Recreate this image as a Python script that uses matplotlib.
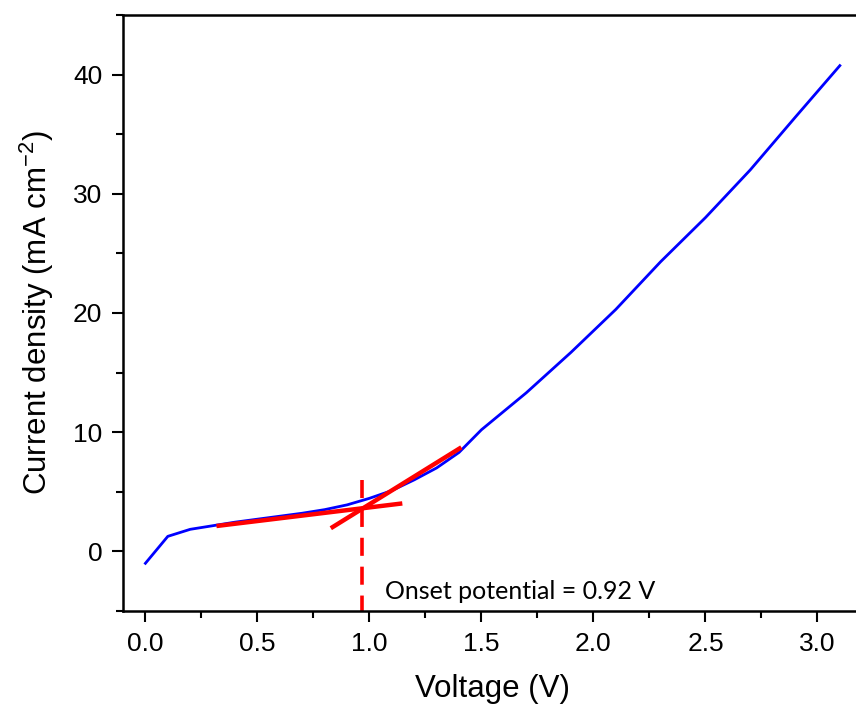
import matplotlib.pyplot as plt
from matplotlib.ticker import MultipleLocator

plt.rcParams['mathtext.fontset'] = 'custom'
plt.rcParams['mathtext.rm'] = 'Liberation Sans'
plt.rcParams['mathtext.default'] = 'regular'

# LSV curve
voltage = [0.0, 0.1, 0.2, 0.3, 0.4, 0.5, 0.6, 0.7, 0.8, 0.9, 1.0, 1.1, 1.2, 1.3, 1.4, 1.5,
           1.7, 1.9, 2.1, 2.3, 2.5, 2.7, 2.9, 3.1]
current = [-1.0, 1.26, 1.85, 2.15, 2.45, 2.7, 2.95, 3.2, 3.5, 3.9, 4.45, 5.1, 6.0, 7.0, 8.3, 10.2,
           13.3, 16.7, 20.3, 24.3, 28.0, 32.0, 36.4, 40.75]

# tangent lines
tan1_x = [0.327, 1.137]
tan1_y = [2.15, 4.0]
tan2_x = [0.836, 1.402]
tan2_y = [2.04, 8.63]

onset_x = 0.966
onset_label = 'Onset potential = 0.92 V'

fig = plt.figure(figsize=(8.56, 7.06), dpi=100)
ax = fig.add_axes([0.1437, 0.1346, 0.8636, 0.8442])

ax.plot(voltage, current, color='#0000ff', lw=2.0)
ax.plot(tan1_x, tan1_y, color='#ff0000', lw=3.2)
ax.plot(tan2_x, tan2_y, color='#ff0000', lw=3.2)
ax.plot([onset_x, onset_x], [6.0, -5.0], color='#ff0000', lw=2.6, ls=(0, (5, 3)))
ax.text(1.07, -3.4, onset_label, fontsize=18, family='Lato', va='center')

ax.set_xlim(-0.1, 3.2)
ax.set_ylim(-5, 45)
ax.xaxis.set_major_locator(MultipleLocator(0.5))
ax.xaxis.set_minor_locator(MultipleLocator(0.25))
ax.yaxis.set_major_locator(MultipleLocator(10))
ax.yaxis.set_minor_locator(MultipleLocator(5))
ax.tick_params(which='major', direction='out', length=8, width=1.5, labelsize=19, pad=7)
ax.tick_params(which='minor', direction='out', length=5, width=1.5)
for lab in ax.get_xticklabels() + ax.get_yticklabels():
    lab.set_family('Liberation Sans')
for s in ax.spines.values():
    s.set_linewidth(1.8)

ax.set_xlabel('Voltage (V)', fontsize=22.5, family='Liberation Sans', labelpad=13)
ax.set_ylabel('Current density (mA cm$^{-2}$)', fontsize=22.5, family='Liberation Sans', labelpad=12)

fig.savefig('out.png', dpi=100)
